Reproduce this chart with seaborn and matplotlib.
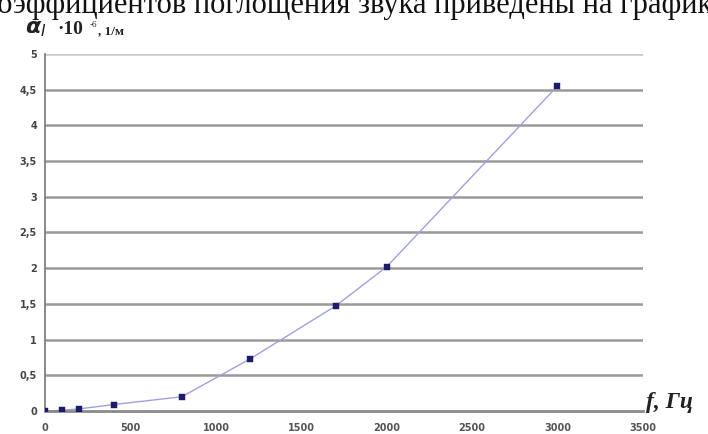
import numpy as np
import pandas as pd
import matplotlib
matplotlib.use("Agg")
import matplotlib.pyplot as plt
from matplotlib.ticker import FuncFormatter
import seaborn as sns

# frequency, Hz
freq = [0, 100, 200, 400, 800, 1200, 1700, 2000, 3000]
# absorption coefficient, x 10^-6 1/m
alpha = [0.0, 0.01, 0.03, 0.09, 0.2, 0.73, 1.47, 2.02, 4.55]

x_ticks = [0, 500, 1000, 1500, 2000, 2500, 3000, 3500]
y_ticks = [0, 0.5, 1, 1.5, 2, 2.5, 3, 3.5, 4, 4.5, 5]

header = "коэффициентов поглощения звука приведены на графике"

data = pd.DataFrame({"f": freq, "alpha": alpha})

sns.set_style("white")

fig = plt.figure(figsize=(7.08, 4.34), dpi=100)
ax = fig.add_axes([0.064, 0.053, 0.844, 0.823])

for yv in y_ticks[1:]:
    ax.axhline(yv, color="#9a9a9a" if yv < 5 else "#c8c8c8", lw=1.8, zorder=1)

sns.lineplot(data=data, x="f", y="alpha", color="#a0a0e0", lw=1.0, ax=ax, zorder=2)
sns.scatterplot(data=data, x="f", y="alpha", color="#1c1c6a", s=14, marker="s",
                edgecolor="#1c1c6a", ax=ax, zorder=3)

ax.set_xlim(0, 3500)
ax.set_ylim(0, 5)
ax.set_xticks(x_ticks)
ax.set_yticks(y_ticks)
comma = FuncFormatter(lambda v, p: ("%g" % v).replace(".", ","))
ax.yaxis.set_major_formatter(comma)
ax.tick_params(axis="y", direction="out", length=4, color="#777777", width=1,
               labelsize=7, labelcolor="#444444", pad=2)
ax.tick_params(axis="x", direction="inout", length=6, color="#999999", width=1,
               labelsize=7, labelcolor="#555555", pad=6)
for lbl in ax.get_yticklabels() + ax.get_xticklabels():
    lbl.set_fontweight("bold")
ax.set_xlabel("")
ax.set_ylabel("")

for s in ["top", "right"]:
    ax.spines[s].set_visible(False)
ax.spines["left"].set_color("#777777")
ax.spines["left"].set_linewidth(1.2)
ax.spines["bottom"].set_color("#8a8a8a")
ax.spines["bottom"].set_linewidth(2.0)

# sentence of the page above the chart, cut by the crop
fig.text(-0.022, 0.970, header, fontsize=22, family="Liberation Serif",
         va="baseline", ha="left", color="#111111")

# y axis caption
fig.text(0.036, 0.922, r"$\boldsymbol{\alpha}_{I}$", fontsize=16, va="baseline",
         color="#222222")
fig.text(0.081, 0.922, "·10", fontsize=14, va="baseline", family="Liberation Serif",
         fontweight="bold", color="#222222")
fig.text(0.126, 0.938, "-6", fontsize=6.5, va="baseline", family="Liberation Serif",
         color="#222222")
fig.text(0.139, 0.922, ", 1/м", fontsize=9.5, va="baseline", family="Liberation Serif",
         fontweight="bold", color="#222222")

# x axis caption
fig.text(0.913, 0.06, "f, Гц", fontsize=17, va="baseline", family="Liberation Serif",
         fontweight="bold", style="italic", color="#222222")

fig.savefig("out.png", dpi=100)
